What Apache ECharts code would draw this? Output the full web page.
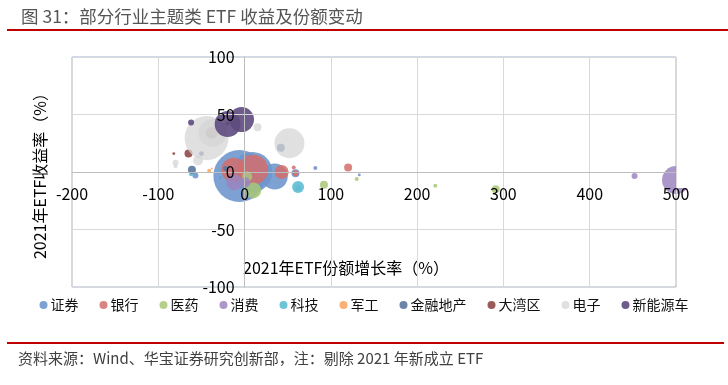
<!DOCTYPE html>
<html><head><meta charset="utf-8">
<script src="https://cdn.jsdelivr.net/npm/echarts@6/dist/echarts.min.js"></script>
<style>html,body{margin:0;padding:0;background:#fff}#c{width:728px;height:385px}</style>
</head><body><div id="c"></div>
<script>
// [份额增长率%, 收益率%, 规模(相对)]
const seriesNames = ['证券','银行','医药','消费','科技','军工','金融地产','大湾区','电子','新能源车'];
const zhengquan = [[-6,-3.5,676],[9,0,400],[35,-4,169],[82,3.5,4],[133,-2.5,2],[-57,-3,9],[-28,-5,2],[59,-1,16]];
const yinhang = [[-13,2,144],[10,2,225],[43,0,49],[59,-1,9],[57,4,4],[120,4,16]];
const yiyao = [[10,-16,64],[3,-4,25],[92,-11,16],[130,-6,4],[221,-12,4],[291,-15,16]];
const xiaofei = [[-12,-9,64],[1,-9,25],[452,-3.5,9],[500,-7,196]];
const keji = [[62,-13,36],[62,-14,9],[-62,-2,4]];
const jungong = [[-41,1,4],[-38,3,1]];
const jinrongdichan = [[-61,2,16],[-50,16,6],[-22,3,6],[42,21,16]];
const dawanqu = [[-65,16,16],[-82,16,2],[-20,42,4],[-38,34,36]];
const dianzi = [[-44,29.5,484],[-37,34,196],[52,25,225],[15,39,16],[-54,10,25],[-80,8,9],[-80,5,4]];
const xinnengyuanche = [[-19.6,41.7,169],[-3.5,45.6,156],[-62,43,9]];
const xTicks = [-200,-100,0,100,200,300,400,500];
const yTicks = [-100,-50,0,50,100];

const allData = [zhengquan,yinhang,yiyao,xiaofei,keji,jungong,jinrongdichan,dawanqu,dianzi,xinnengyuanche];
const colors = ['#6e97cd','#d46f6c','#a9c877','#9c85bf','#5fbcd3','#f9a865','#5a76a0','#8e4a48','#d6d6d6','#5e4b80'];
const opac = [0.9,0.85,0.85,0.85,0.9,0.9,0.9,0.9,0.75,0.9];

const gridL = 72, gridR = 52, gridT = 57, gridB = 98, W = 728, H = 385;
const xMin = xTicks[0], xMax = xTicks[xTicks.length-1], yMin = yTicks[0], yMax = yTicks[yTicks.length-1];
const plotW = W - gridL - gridR, plotH = H - gridT - gridB;
const xZeroOff = -plotW * (0 - xMin) / (xMax - xMin);
const yZeroOff = -plotH * (0 - yMin) / (yMax - yMin);

const chart = echarts.init(document.getElementById('c'));
const font = '"Noto Sans CJK SC", "Noto Sans", sans-serif';
chart.setOption({
  animation:false,
  color: colors,
  title:{text:'图 31：部分行业主题类 ETF 收益及份额变动', left:16, top:3,
    textStyle:{fontSize:17.5, fontWeight:'normal', color:'#555', fontFamily:font}},
  legend:{bottom:68, left:'center', icon:'circle', itemWidth:8, itemHeight:8, itemGap:21,
    textStyle:{fontSize:14, color:'#111', fontFamily:font, padding:[0,0,0,-2]},
    data: seriesNames},
  grid:{left:gridL, right:gridR, top:gridT, bottom:gridB, show:true, borderColor:'#9fb6d6', borderWidth:1,
    backgroundColor:'transparent', outerBoundsMode:'none', containLabel:false},
  xAxis:{type:'value', min:xMin, max:xMax, interval:100, z:10, position:'bottom', offset:yZeroOff,
    axisLine:{onZero:false, lineStyle:{color:'#bdbdbd', width:1}},
    axisTick:{show:false},
    axisLabel:{fontSize:16, color:'#000', margin:14, fontFamily:font},
    splitLine:{lineStyle:{color:'#d9d9d9'}}},
  yAxis:{type:'value', min:yMin, max:yMax, interval:50, z:10, position:'left', offset:xZeroOff,
    name:'2021年ETF收益率（%）', nameLocation:'middle', nameGap:197, nameRotate:90,
    nameTextStyle:{fontSize:16, color:'#000', fontFamily:font},
    axisLine:{onZero:false, lineStyle:{color:'#bdbdbd', width:1}},
    axisTick:{show:false},
    axisLabel:{fontSize:16, color:'#000', margin:10, fontFamily:font},
    splitLine:{lineStyle:{color:'#d9d9d9'}}},
  graphic:[
    {type:'rect', shape:{x:7,y:29,width:721,height:2}, style:{fill:'#c00000'}},
    {type:'rect', shape:{x:677,y:160,width:40,height:28}, style:{fill:'#fff'}, z:5},
    {type:'rect', shape:{x:7,y:342,width:717,height:2}, style:{fill:'#c00000'}},
    {type:'text', left:243, top:260, style:{text:'2021年ETF份额增长率（%）', fill:'#000', font:'16px '+font}},
    {type:'text', left:18, top:351, style:{text:'资料来源：Wind、华宝证券研究创新部，注：剔除 2021 年新成立 ETF', fill:'#404040', font:'15px '+font}}
  ],
  series: seriesNames.map((n,i)=>({
    name:n, type:'scatter', z:2,
    data: allData[i],
    symbolSize: d => Math.sqrt(d[2])*2,
    itemStyle:{color:colors[i], opacity:opac[i]},
    emphasis:{disabled:true}
  }))
});
</script></body></html>
